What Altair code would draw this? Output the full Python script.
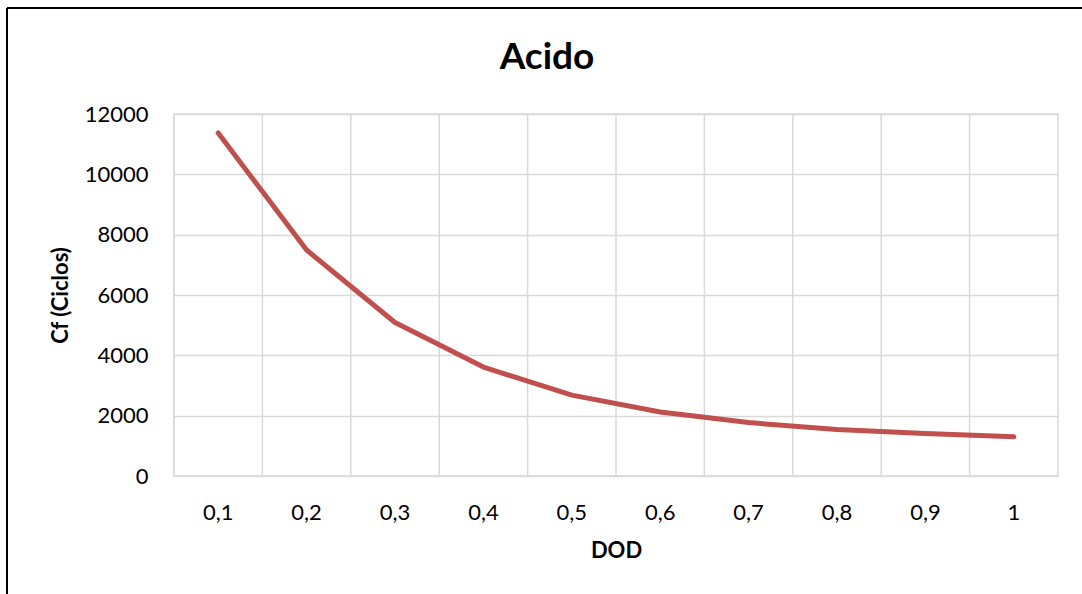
import altair as alt
import pandas as pd

dod_labels = ["0,1", "0,2", "0,3", "0,4", "0,5", "0,6", "0,7", "0,8", "0,9", "1"]
cf_values = [11370, 7490, 5090, 3610, 2680, 2120, 1770, 1540, 1410, 1300]
y_ticks = [0, 2000, 4000, 6000, 8000, 10000, 12000]
title_text = "Acido"

df = pd.DataFrame({"DOD": dod_labels, "Cf": cf_values})

FONT = "Lato"
W, H = 884, 362
PL, PT = 174, 114

x_enc = alt.X(
    "DOD:N",
    sort=dod_labels,
    scale=alt.Scale(paddingInner=0, paddingOuter=0),
    axis=alt.Axis(
        title="DOD",
        titleFont=FONT, titleFontSize=22, titleFontWeight="bold", titleColor="#000000",
        titleBaseline="middle", titleY=74,
        labelFont=FONT, labelFontSize=22, labelColor="#000000", labelPadding=36,
        labelAlign="center", labelBaseline="middle",
        labelAngle=0, ticks=False, domain=False, grid=False,
    ),
)

y_enc = alt.Y(
    "Cf:Q",
    scale=alt.Scale(domain=[0, 12000], nice=False),
    axis=alt.Axis(
        title="Cf (Ciclos)",
        values=y_ticks, format="d",
        titleFont=FONT, titleFontSize=22, titleFontWeight="bold", titleColor="#000000",
        titleAlign="center", titleBaseline="middle", titleX=-114, titleY=H / 2, titleAngle=-90,
        labelFont=FONT, labelFontSize=22, labelColor="#000000", labelPadding=26,
        ticks=False, domain=False, grid=True, gridColor="#d9d9d9", gridWidth=1.5,
    ),
)

grid_v = alt.Chart(df).mark_rule(color="#d9d9d9", strokeWidth=1.5).encode(
    x=alt.X("DOD:N", sort=dod_labels, bandPosition=0),
    y=alt.value(0),
    y2=alt.value(H),
)

line = alt.Chart(df).mark_line(color="#c0504d", strokeWidth=5, strokeCap="round", strokeJoin="round").encode(
    x=x_enc, y=y_enc
)

border_top = alt.Chart(df).mark_rule(color="#000000", strokeWidth=1.5).encode(
    x=alt.value(7 - PL), x2=alt.value(1082 - PL), y=alt.value(8 - PT)
)
border_left = alt.Chart(df).mark_rule(color="#000000", strokeWidth=1.5).encode(
    x=alt.value(7 - PL), y=alt.value(8 - PT), y2=alt.value(594 - PT)
)

title = alt.Chart(pd.DataFrame({"t": [title_text]})).mark_text(
    font=FONT, fontSize=37, fontWeight="bold", color="#000000",
    align="center", baseline="alphabetic",
).encode(text="t:N", x=alt.value(547 - PL), y=alt.value(69 - PT))

chart = alt.layer(grid_v, line, border_top, border_left, title).properties(
    width=W,
    height=H,
    autosize=alt.AutoSizeParams(type="none"),
    padding={"left": PL, "top": PT, "right": 1082 - PL - W, "bottom": 594 - PT - H},
    background="#ffffff",
).configure_view(stroke="#d9d9d9", strokeWidth=1.5)

chart.save("out.html", embed_options={"renderer": "svg", "actions": False})
